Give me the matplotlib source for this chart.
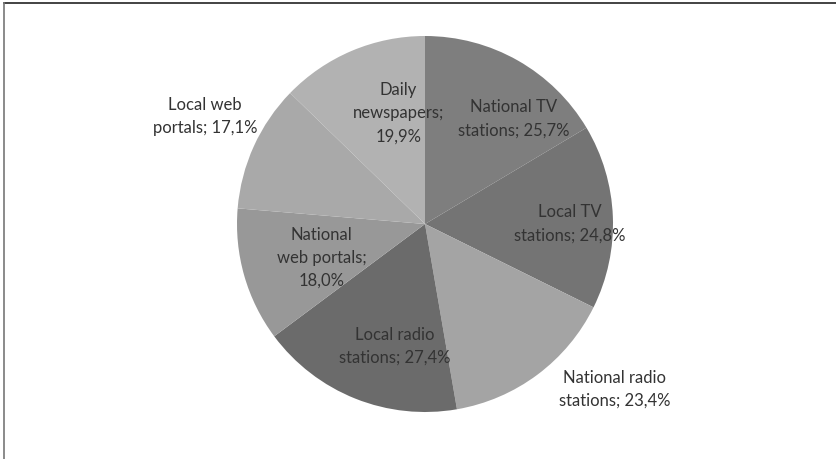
import matplotlib
matplotlib.use('Agg')
import matplotlib.pyplot as plt
from matplotlib.lines import Line2D

# media shares as printed on the chart (they do not add to 100)
categories = ['National TV\nstations;', 'Local TV\nstations;', 'National radio\nstations;',
              'Local radio\nstations;', 'National\nweb portals;\n', 'Local web\nportals;',
              'Daily\nnewspapers;\n']
values = [25.7, 24.8, 23.4, 27.4, 18.0, 17.1, 19.9]
colors = ['#7e7e7e', '#747474', '#a4a4a4', '#6b6b6b', '#989898', '#a9a9a9', '#b2b2b2']

# label centres in data units (radius = 1)
label_pos = [(0.47, 0.56), (0.77, 0.0), (1.01, -0.88), (-0.16, -0.65),
             (-0.55, -0.18), (-1.17, 0.57), (-0.14, 0.59)]

W, H = 837, 459
cx, cy, R = 425, 224, 188

plt.rcParams['font.family'] = ['Lato', 'DejaVu Sans']
fig = plt.figure(figsize=(W / 100, H / 100), dpi=100)
ax = fig.add_axes([0, 0, 1, 1])
ax.pie(values, colors=colors, startangle=90, counterclock=False, radius=1,
       wedgeprops=dict(linewidth=0))
ax.set_xlim(-cx / R, (W - cx) / R)
ax.set_ylim(-(H - cy) / R, cy / R)
ax.set_aspect('auto')
ax.axis('off')

for cat, val, (x, y) in zip(categories, values, label_pos):
    sep = '' if cat.endswith('\n') else ' '
    txt = cat + sep + f'{val:.1f}'.replace('.', ',') + '%'
    ax.text(x, y, txt, ha='center', va='center', fontsize=12,
            color='#333333', linespacing=1.55)

# frame (only top and left edges visible)
fig.add_artist(Line2D([4 / W, 1], [1 - 3 / H, 1 - 3 / H], color='#222222', lw=1.2))
fig.add_artist(Line2D([4 / W, 4 / W], [0, 1 - 3 / H], color='#777777', lw=1.2))

fig.savefig('out.png', dpi=100)
